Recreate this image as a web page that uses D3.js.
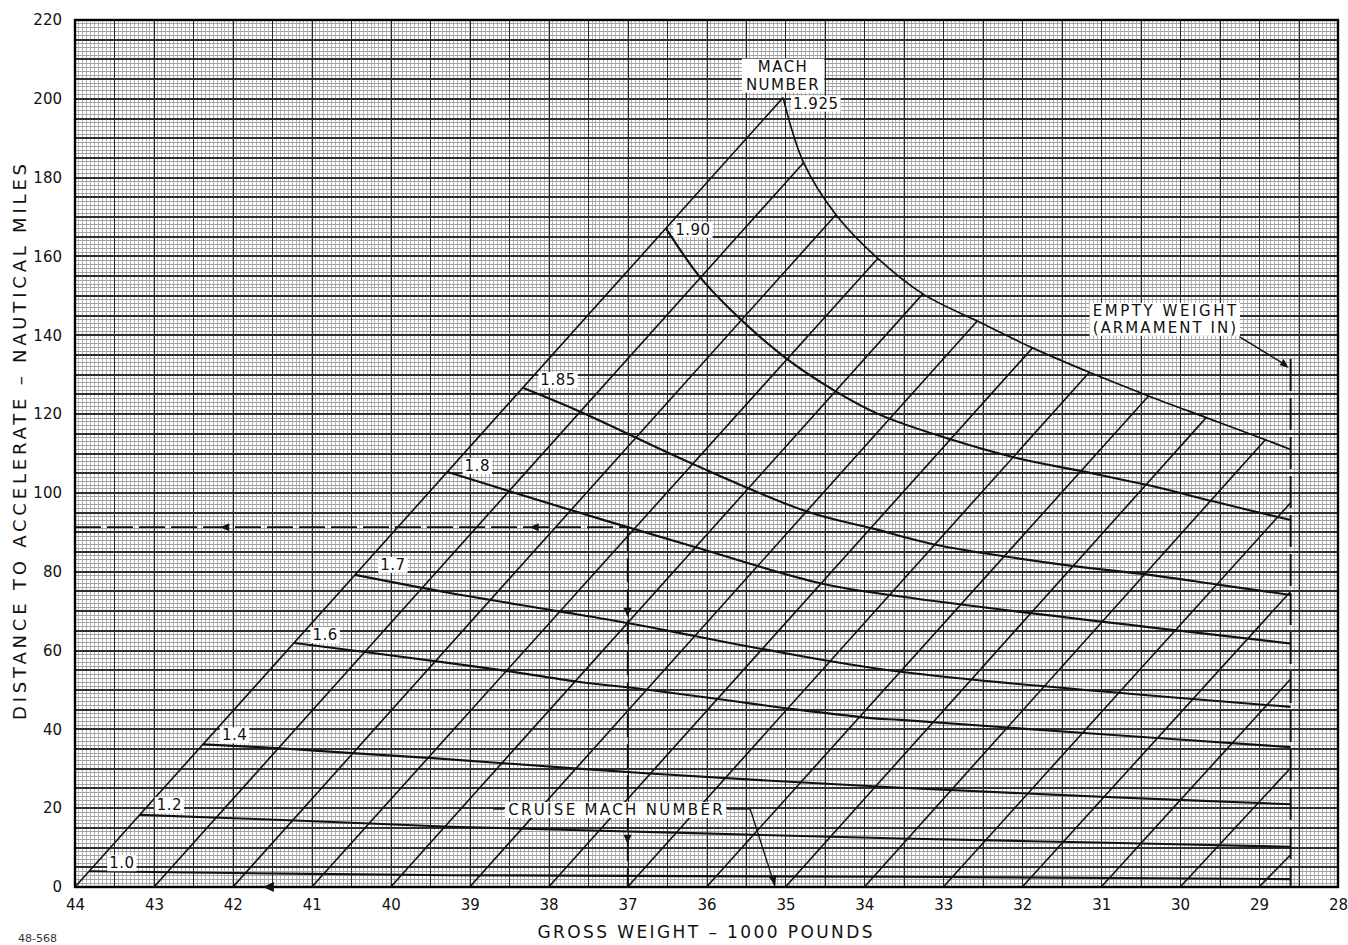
<!DOCTYPE html>
<html><head><meta charset="utf-8">
<script src="https://cdn.jsdelivr.net/npm/d3@7/dist/d3.min.js"></script>
<style>
html,body{margin:0;padding:0;background:#fff;}
svg{display:block;}
</style></head>
<body><svg id="chart" width="1348" height="945"></svg>
<script>
// ---------------- DATA ----------------
const weightTicks = [44,43,42,41,40,39,38,37,36,35,34,33,32,31,30,29,28];
const distanceTicks = [0,20,40,60,80,100,120,140,160,180,200,220];

// Mach curves: [gross weight (1000 lb), distance (n.mi.)]
const mach100 = [[43.82,4.0],[39.25,3.0],[33.54,2.6],[28.6,2.0]];
const mach120 = [[43.18,18.3],[41.37,17.0],[39.25,15.3],[36.40,13.8],[33.54,12.3],[31.07,11.3],[28.6,10.2]];
const mach140 = [[42.38,36.2],[41.41,35.2],[40.44,33.9],[39.47,32.7],[36.72,28.8],[33.54,25.2],[31.0,22.9],[28.6,21.0]];
const mach160 = [[41.22,61.9],[39.25,56.8],[38.56,54.9],[37.63,52.1],[36.72,50.0],[35.78,47.5],[34.85,45.0],[33.88,42.8],[33.54,42.4],[31.17,39.0],[28.6,35.5]];
const mach170 = [[40.45,79.2],[39.25,74.6],[37.88,70.0],[36.95,66.8],[36.15,63.7],[35.35,60.6],[33.54,54.6],[28.6,45.7]];
const mach180 = [[39.28,105.3],[37.73,95.7],[36.17,86.4],[34.56,77.1],[33.54,73.7],[28.6,61.8]];
const mach185 = [[38.32,126.6],[37.60,120.6],[36.19,107.5],[34.73,95.3],[33.9,91.0],[33.08,86.8],[32.19,83.8],[31.30,81.3],[30.39,79.2],[29.48,76.6],[28.6,74.1]];
const mach190 = [[36.51,167.0],[36.10,155.2],[35.72,147.0],[35.02,134.6],[34.39,126.1],[33.80,119.8],[32.91,113.6],[32.06,108.8],[31.22,105.4],[30.37,101.8],[29.57,97.8],[28.6,93.1]];
const mach1925 = [[35.03,200.3],[34.77,183.8],[34.36,170.6],[33.83,159.5],[33.26,150.5],[32.57,143.6],[31.87,136.8],[31.15,130.6],[30.4,124.6],[29.67,119.1],[28.92,113.5],[28.6,111.0]];

const machNames = ["1.0","1.2","1.4","1.6","1.7","1.8","1.85","1.90","1.925"];
const machSeries = [mach100,mach120,mach140,mach160,mach170,mach180,mach185,mach190,mach1925];

// Gross-weight (fuel burn) lines: start weight on the axis and top end
const diagonalStarts = [44,43,42,41,40,39,38,37,36,35,34,33,32,31,30,29];
const diagonalEnds = [[35.03,200.3],[34.77,183.8],[34.36,170.6],[33.83,159.5],[33.26,150.5],[32.57,143.6],[31.87,136.8],[31.15,130.6],[30.4,124.6],[29.67,119.1],[28.92,113.5],[28.6,97.5],[28.6,75.0],[28.6,52.8],[28.6,30.2],[28.6,8.2]];

const emptyWeight = 28.6;
const emptyWeightTop = 134;
const exampleWeight = 37;
const exampleDistance = 91.3;
const cruiseArrowWeight = 35.13;

// ---------------- DRAWING ----------------
const FONT = "'DejaVu Sans','Liberation Sans',sans-serif";
const svg = d3.select("#chart");
const x = d3.scaleLinear().domain([44,28]).range([75,1338]);
const y = d3.scaleLinear().domain([0,220]).range([887,20]);

svg.append("rect").attr("width",1348).attr("height",945).attr("fill","#fff");

// graph paper
const grid = svg.append("g").attr("shape-rendering","crispEdges");
grid.selectAll("line.fv").data(x.ticks(320)).join("line").attr("class","fv")
  .attr("x1",d=>x(d)).attr("x2",d=>x(d)).attr("y1",y(220)).attr("y2",y(0))
  .attr("stroke","#b4b4b4").attr("stroke-width",1);
grid.selectAll("line.fh").data(y.ticks(220)).join("line").attr("class","fh")
  .attr("y1",d=>y(d)).attr("y2",d=>y(d)).attr("x1",x(44)).attr("x2",x(28))
  .attr("stroke","#a2a2a2").attr("stroke-width",1);
grid.selectAll("line.mv").data(x.ticks(32)).join("line").attr("class","mv")
  .attr("x1",d=>Math.round(x(d))+0.5).attr("x2",d=>Math.round(x(d))+0.5).attr("y1",y(220)).attr("y2",y(0))
  .attr("stroke","#262626").attr("stroke-width",1);
grid.selectAll("line.mh").data(y.ticks(44)).join("line").attr("class","mh")
  .attr("y1",d=>Math.round(y(d))).attr("y2",d=>Math.round(y(d))).attr("x1",x(44)).attr("x2",x(28))
  .attr("stroke","#2e2e2e").attr("stroke-width",2);
svg.append("rect").attr("x",x(44)).attr("y",y(220)).attr("width",x(28)-x(44)).attr("height",y(0)-y(220))
  .attr("fill","none").attr("stroke","#000").attr("stroke-width",2.4);

// axes
const yAxis = svg.append("g").attr("transform",`translate(${x(44)},0)`)
  .call(d3.axisLeft(y).tickValues(distanceTicks).tickSize(0).tickPadding(13));
const xAxis = svg.append("g").attr("transform",`translate(0,${y(0)})`)
  .call(d3.axisBottom(x).tickValues(weightTicks).tickSize(0).tickPadding(12).tickFormat(d3.format("d")));
[yAxis,xAxis].forEach(a=>{
  a.select(".domain").remove();
  a.selectAll("text").attr("font-family",FONT).attr("font-size",15).attr("fill","#111");
});

// diagonal lines
const plot = svg.append("g");
plot.selectAll("line.diag").data(diagonalStarts).join("line").attr("class","diag")
  .attr("x1",d=>x(d)).attr("y1",y(0))
  .attr("x2",(d,i)=>x(diagonalEnds[i][0])).attr("y2",(d,i)=>y(diagonalEnds[i][1]))
  .attr("stroke","#111").attr("stroke-width",1.6);

// mach curves
const line = d3.line().x(d=>x(d[0])).y(d=>y(d[1])).curve(d3.curveCatmullRom.alpha(0.5));
plot.selectAll("path.mach").data(machSeries).join("path").attr("class","mach")
  .attr("d",line).attr("fill","none").attr("stroke","#111")
  .attr("stroke-width",(d,i)=>i===8?1.7:2.1);

// dashed lines
const dash = svg.append("g").attr("stroke","#111").attr("fill","none");
dash.append("line").attr("x1",x(44)).attr("x2",x(exampleWeight))
  .attr("y1",y(exampleDistance)).attr("y2",y(exampleDistance))
  .attr("stroke-width",1.8).attr("stroke-dasharray","26,6");
dash.append("line").attr("x1",x(exampleWeight)).attr("x2",x(exampleWeight))
  .attr("y1",y(exampleDistance)).attr("y2",y(0))
  .attr("stroke-width",1.5).attr("stroke-dasharray","24,7");
dash.append("line").attr("x1",x(emptyWeight)).attr("x2",x(emptyWeight))
  .attr("y1",y(emptyWeightTop)).attr("y2",y(0))
  .attr("stroke-width",2).attr("stroke-dasharray","32,7");

// arrowheads
function arrow(px,py,dir,size){
  const s=size||7, w=s*0.45;
  let p;
  if(dir==="left") p=[[px,py],[px+s,py-w],[px+s,py+w]];
  else if(dir==="down") p=[[px,py],[px-w,py-s],[px+w,py-s]];
  else p=dir; // custom
  svg.append("path").attr("d","M"+p.map(q=>q.join(",")).join("L")+"Z").attr("fill","#111");
}
arrow(x(42.16),y(exampleDistance),"left",9);
arrow(x(38.24),y(exampleDistance),"left",9);
arrow(x(exampleWeight),y(68.6),"down",9);
arrow(x(exampleWeight),y(11.0),"down",9);
arrow(x(41.62),y(0),"left",11);

// labels with white boxes
const labels = svg.append("g");
function boxLabel(lines, px, py, opt){
  opt = opt||{};
  const g = labels.append("g");
  const r = g.append("rect").attr("fill","#fff");
  const fs = opt.size||15, lh = opt.lh||17;
  const t = g.append("text").attr("font-family",FONT).attr("font-size",fs).attr("fill","#111")
    .attr("text-anchor",opt.anchor||"start").attr("letter-spacing",opt.ls||0.5);
  lines.forEach((s,i)=>{
    const ts=t.append("tspan").attr("x",px).attr("y",py+i*lh).text(s);
    if(opt.len && opt.len[i]) ts.attr("textLength",opt.len[i]).attr("lengthAdjust","spacing");
  });
  const bb=t.node().getBBox(), p=opt.pad==null?2:opt.pad;
  r.attr("x",bb.x-p).attr("y",bb.y+1).attr("width",bb.width+2*p).attr("height",bb.height-2);
}
const machOffsets = [[20,-3],[17,-5],[19,-4],[18,-3],[25,-5],[17,-1],[17,-3],[9,6],[10,11]];
machSeries.forEach((s,i)=>{
  boxLabel([machNames[i]], x(s[0][0])+machOffsets[i][0], y(s[0][1])+machOffsets[i][1], {});
});
boxLabel(["MACH","NUMBER"], x(mach1925[0][0]), y(mach1925[0][1])-26, {anchor:"middle",ls:1.5,lh:18,pad:4});

boxLabel(["EMPTY WEIGHT","(ARMAMENT IN)"], x(emptyWeight)-198, y(emptyWeightTop)-43, {len:[144,144],lh:17,pad:3});
svg.append("line").attr("x1",x(emptyWeight)-51).attr("y1",y(emptyWeightTop)-22)
  .attr("x2",x(emptyWeight)-5).attr("y2",y(emptyWeightTop)+6).attr("stroke","#111").attr("stroke-width",1.3);
arrow(0,0,[[x(emptyWeight)-2,y(emptyWeightTop)+9],[x(emptyWeight)-11,y(emptyWeightTop)+6],[x(emptyWeight)-7,y(emptyWeightTop)]]);

// cruise mach number label
const cx = x(cruiseArrowWeight), cy = y(0);
boxLabel(["CRUISE MACH NUMBER"], cx-267, cy-72, {len:[215],pad:3});
const lead = svg.append("g").attr("stroke","#111").attr("stroke-width",1.3).attr("fill","none");
lead.append("line").attr("x1",cx-282).attr("x2",cx-271).attr("y1",cy-78).attr("y2",cy-78);
lead.append("line").attr("x1",cx-48).attr("x2",cx-25).attr("y1",cy-78).attr("y2",cy-78);
lead.append("line").attr("x1",cx-25).attr("y1",cy-78).attr("x2",cx-1).attr("y2",cy-3);
arrow(0,0,[[cx,cy],[cx-6,cy-10],[cx+1,cy-12]]);

// titles
svg.append("text").attr("transform","translate(26,442) rotate(-90)")
  .attr("text-anchor","middle").attr("font-family",FONT).attr("font-size",18).attr("fill","#111")
  .attr("textLength",556).attr("lengthAdjust","spacing")
  .text("DISTANCE TO ACCELERATE  –  NAUTICAL MILES");
svg.append("text").attr("x",705).attr("y",938)
  .attr("text-anchor","middle").attr("font-family",FONT).attr("font-size",17).attr("fill","#111")
  .attr("textLength",335).attr("lengthAdjust","spacing")
  .text("GROSS WEIGHT  –  1000 POUNDS");
svg.append("text").attr("x",18).attr("y",942).attr("font-family",FONT).attr("font-size",11).attr("fill","#333")
  .text("48-568");
</script>
</body></html>
